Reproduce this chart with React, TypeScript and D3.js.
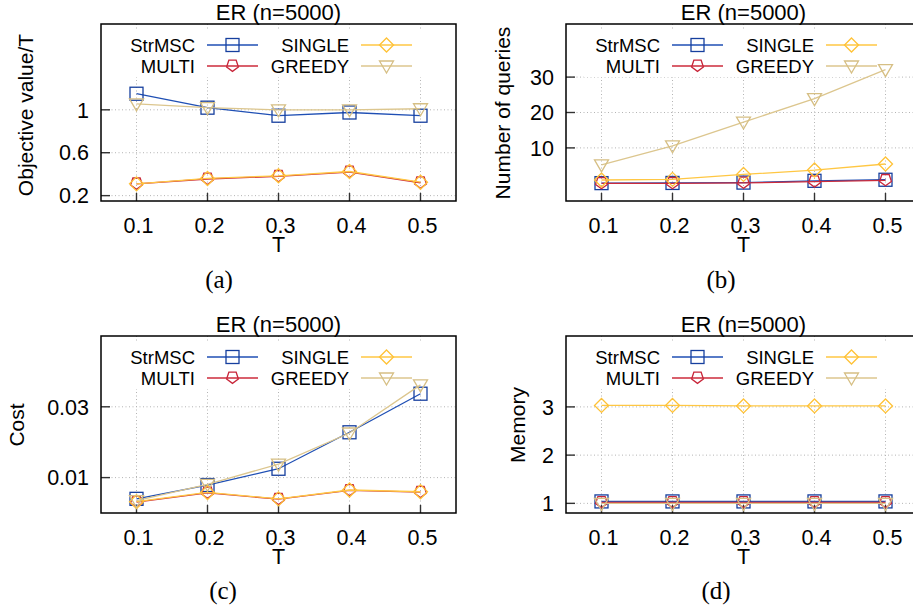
import React from "react";
import * as d3 from "d3";

const tValues = [0.1, 0.2, 0.3, 0.4, 0.5];
const xTickLabels = ["0.1", "0.2", "0.3", "0.4", "0.5"];
const seriesNames = ["StrMSC", "MULTI", "SINGLE", "GREEDY"];

// (a) Objective value / T
const objStrMSC = [1.15, 1.02, 0.945, 0.975, 0.945];
const objMulti = [0.31, 0.355, 0.38, 0.42, 0.32];
const objSingle = [0.31, 0.36, 0.385, 0.425, 0.325];
const objGreedy = [1.055, 1.02, 1.0, 1.0, 1.01];
const objTicks = [0.2, 0.6, 1];

// (b) Number of queries
const qStrMSC = [0.05, 0.1, 0.2, 0.7, 1.0];
const qMulti = [0.0, 0.0, 0.1, 0.45, 0.85];
const qSingle = [0.93, 1.1, 2.5, 3.75, 5.45];
const qGreedy = [5.2, 10.6, 17.3, 23.9, 32.1];
const qTicks = [10, 20, 30];

// (c) Cost
const cStrMSC = [0.004, 0.0079, 0.0125, 0.0228, 0.0337];
const cMulti = [0.0031, 0.0057, 0.0039, 0.0064, 0.0059];
const cSingle = [0.0032, 0.0058, 0.004, 0.0065, 0.006];
const cGreedy = [0.0035, 0.0081, 0.0138, 0.0226, 0.0362];
const cTicks = [0.01, 0.03];

// (d) Memory
const mStrMSC = [1.04, 1.04, 1.04, 1.04, 1.04];
const mMulti = [1.02, 1.02, 1.02, 1.02, 1.02];
const mSingle = [3.03, 3.03, 3.02, 3.02, 3.02];
const mGreedy = [1.0, 1.0, 1.0, 1.0, 1.0];
const mTicks = [1, 2, 3];

const COLORS = ["#1f4fb4", "#cc2b3b", "#ffc743", "#dcc68e"];
const MARKER_STROKE = ["#163f9e", "#c8263a", "#ffc236", "#d6bf84"];
const SANS = "'Liberation Sans', Arial, Helvetica, sans-serif";
const SERIF = "'Liberation Serif', 'DejaVu Serif', serif";

const BOX_W = 355;
const BOX_H = 177;

function Marker({ kind, x, y }: { kind: number; x: number; y: number }) {
  const stroke = MARKER_STROKE[kind];
  const common = { fill: "none", stroke, strokeWidth: 1.3 };
  if (kind === 0) {
    return <rect x={x - 6.5} y={y - 6.5} width={13} height={13} {...common} />;
  }
  if (kind === 1) {
    const r = 6.2;
    const pts = d3.range(5).map((i) => {
      const a = Math.PI / 2 + (i * 2 * Math.PI) / 5;
      return [x + r * Math.cos(a), y + r * Math.sin(a) - 0.8];
    });
    return <polygon points={pts.map((p) => p.join(",")).join(" ")} {...common} />;
  }
  if (kind === 2) {
    const r = 7;
    return (
      <polygon
        points={`${x},${y - r} ${x + r},${y} ${x},${y + r} ${x - r},${y}`}
        {...common}
      />
    );
  }
  return (
    <polygon
      points={`${x - 7},${y - 5} ${x + 7},${y - 5} ${x},${y + 7}`}
      {...common}
    />
  );
}

type PanelProps = {
  left: number;
  top: number;
  domain: [number, number];
  ticks: number[];
  tickFmt: (v: number) => string;
  series: number[][];
  yLabel: string;
  yLabelX: number;
  yLabelY: number;
  caption: string;
  captionX: number;
  captionY: number;
};

function Panel(p: PanelProps) {
  const { left, top } = p;
  const x = d3.scaleLinear().domain([0.05, 0.55]).range([left, left + BOX_W]);
  const y = d3.scaleLinear().domain(p.domain).range([top + BOX_H, top]);
  const bottom = top + BOX_H;
  const line = d3
    .line<number>()
    .x((_, i) => x(tValues[i]))
    .y((d) => y(d));
  const legendRows = [
    { idx: 0, col: 0, row: 0 },
    { idx: 1, col: 0, row: 1 },
    { idx: 2, col: 1, row: 0 },
    { idx: 3, col: 1, row: 1 },
  ];
  return (
    <g>
      {tValues.map((t, i) => (
        <line
          key={"gx" + i}
          x1={x(t)}
          x2={x(t)}
          y1={top}
          y2={bottom}
          stroke="#b4b4b4"
          strokeWidth={1}
          strokeDasharray="1,2.5"
        />
      ))}
      {p.ticks.map((v, i) => (
        <line
          key={"gy" + i}
          x1={left}
          x2={left + BOX_W}
          y1={y(v)}
          y2={y(v)}
          stroke="#b4b4b4"
          strokeWidth={1}
          strokeDasharray="1,2.5"
        />
      ))}
      <rect x={left + 18} y={top + 6} width={312} height={47} fill="#fff" />
      {tValues.map((t, i) => (
        <line
          key={"tx" + i}
          x1={x(t)}
          x2={x(t)}
          y1={bottom}
          y2={bottom - 8}
          stroke="#333"
          strokeWidth={1.4}
        />
      ))}
      {p.ticks.map((v, i) => (
        <line
          key={"ty" + i}
          x1={left}
          x2={left + 9}
          y1={y(v)}
          y2={y(v)}
          stroke="#333"
          strokeWidth={1.4}
        />
      ))}
      {p.series.map((s, k) => (
        <g key={"s" + k}>
          <path d={line(s) || ""} fill="none" stroke={COLORS[k]} strokeWidth={1.3} />
          {s.map((v, i) => (
            <Marker key={i} kind={k} x={x(tValues[i])} y={y(v)} />
          ))}
        </g>
      ))}
      {legendRows.map((r) => {
        const textEnd = left + (r.col === 0 ? 94 : 248);
        const lx1 = left + (r.col === 0 ? 106 : 260);
        const ly = top + (r.row === 0 ? 21 : 42);
        return (
          <g key={"lg" + r.idx}>
            <text
              x={textEnd}
              y={ly}
              dy="0.36em"
              textAnchor="end"
              fontFamily={SANS}
              fontSize={18.5}
              fill="#000"
            >
              {seriesNames[r.idx]}
            </text>
            <line x1={lx1} x2={lx1 + 51} y1={ly} y2={ly} stroke={COLORS[r.idx]} strokeWidth={1.3} />
            <Marker kind={r.idx} x={lx1 + 25.5} y={ly} />
          </g>
        );
      })}
      <rect x={left} y={top} width={BOX_W} height={BOX_H} fill="none" stroke="#000" strokeWidth={1.5} />
      {tValues.map((t, i) => (
        <text
          key={"lx" + i}
          x={x(t) + 2}
          y={bottom + 32}
          textAnchor="middle"
          fontFamily={SANS}
          fontSize={21.5}
        >
          {xTickLabels[i]}
        </text>
      ))}
      {p.ticks.map((v, i) => (
        <text
          key={"ly" + i}
          x={left - 12}
          y={y(v)}
          dy="0.36em"
          textAnchor="end"
          fontFamily={SANS}
          fontSize={21.5}
        >
          {p.tickFmt(v)}
        </text>
      ))}
      <text x={left + BOX_W / 2} y={top - 4} textAnchor="middle" fontFamily={SANS} fontSize={22}>
        ER (n=5000)
      </text>
      <text x={left + BOX_W / 2} y={bottom + 51} textAnchor="middle" fontFamily={SANS} fontSize={21.5}>
        T
      </text>
      <text
        transform={`translate(${p.yLabelX},${p.yLabelY}) rotate(-90)`}
        textAnchor="middle"
        fontFamily={SANS}
        fontSize={21}
      >
        {p.yLabel}
      </text>
      <text x={p.captionX} y={p.captionY} textAnchor="middle" fontFamily={SERIF} fontSize={25}>
        {p.caption}
      </text>
    </g>
  );
}

export default function App() {
  return (
    <svg
      width={913}
      height={608}
      style={{ position: "absolute", left: 0, top: 0, background: "#fff" }}
    >
      <rect x={0} y={0} width={913} height={608} fill="#fff" />
      <Panel
        left={101}
        top={24}
        domain={[0.15, 1.8]}
        ticks={objTicks}
        tickFmt={(v) => String(v)}
        series={[objStrMSC, objMulti, objSingle, objGreedy]}
        yLabel="Objective value/T"
        yLabelX={33}
        yLabelY={115}
        caption="(a)"
        captionX={219}
        captionY={288}
      />
      <Panel
        left={566}
        top={24}
        domain={[-5, 45]}
        ticks={qTicks}
        tickFmt={(v) => String(v)}
        series={[qStrMSC, qMulti, qSingle, qGreedy]}
        yLabel="Number of queries"
        yLabelX={510}
        yLabelY={113}
        caption="(b)"
        captionX={721}
        captionY={288}
      />
      <Panel
        left={101}
        top={336}
        domain={[0, 0.05]}
        ticks={cTicks}
        tickFmt={(v) => String(v)}
        series={[cStrMSC, cMulti, cSingle, cGreedy]}
        yLabel="Cost"
        yLabelX={24}
        yLabelY={425}
        caption="(c)"
        captionX={223}
        captionY={599}
      />
      <Panel
        left={566}
        top={336}
        domain={[0.8, 4.47]}
        ticks={mTicks}
        tickFmt={(v) => String(v)}
        series={[mStrMSC, mMulti, mSingle, mGreedy]}
        yLabel="Memory"
        yLabelX={525}
        yLabelY={425}
        caption="(d)"
        captionX={716}
        captionY={599}
      />
    </svg>
  );
}
